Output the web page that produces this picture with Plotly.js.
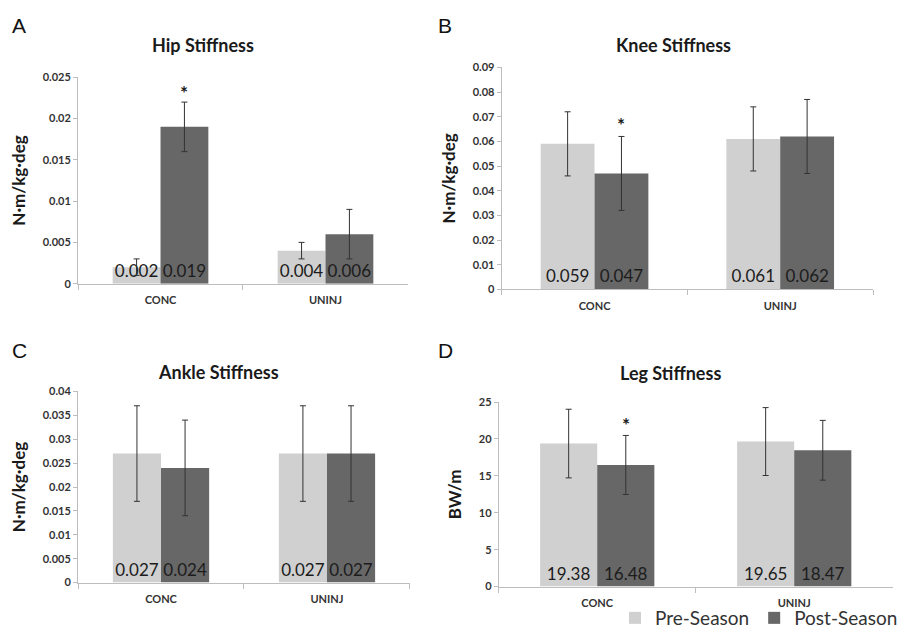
<!DOCTYPE html>
<html><head><meta charset="utf-8">
<script src="https://cdn.plot.ly/plotly-3.0.1.min.js"></script>
<style>html,body{margin:0;padding:0;background:#fff}</style>
</head><body><div id="chart" style="width:903px;height:637px"></div>
<script>
// ---- data ----
const categories = ['CONC', 'UNINJ'];
const seriesNames = ['Pre-Season', 'Post-Season'];
const panelLetters = ['A', 'B', 'C', 'D'];
const panelTitles = ['Hip Stiffness', 'Knee Stiffness', 'Ankle Stiffness', 'Leg Stiffness'];
const yTitles = ['N·m/kg·deg', 'N·m/kg·deg', 'N·m/kg·deg', 'BW/m'];

const hipPre = [0.002, 0.004];
const hipPost = [0.019, 0.006];
const hipPreErr = [0.001, 0.001];
const hipPostErr = [0.003, 0.003];

const kneePre = [0.059, 0.061];
const kneePost = [0.047, 0.062];
const kneePreErr = [0.013, 0.013];
const kneePostErr = [0.015, 0.015];

const anklePre = [0.027, 0.027];
const anklePost = [0.024, 0.027];
const anklePreErr = [0.010, 0.010];
const anklePostErr = [0.010, 0.010];

const legPre = [19.38, 19.65];
const legPost = [16.48, 18.47];
const legPreErr = [4.65, 4.6];
const legPostErr = [4.0, 4.05];

// significance asterisk (above CONC post-season bar), null = none
const starY = [0.0232, 0.067, null, 21.9];

const yRanges = [[0, 0.025], [0, 0.09], [0, 0.04], [0, 25]];
const yDticks = [0.005, 0.01, 0.005, 5];

// ---- layout geometry ----
const W = 903, H = 637;
const domX = [[0.0864, 0.4518], [0.5556, 0.9668], [0.0864, 0.454], [0.5523, 0.9886]];
const domY = [[0.5526, 0.878], [0.5436, 0.8937], [0.0811, 0.3826], [0.0748, 0.3658]];
const bargap = 0.42;
const preColor = '#d0d0d0', postColor = '#676767';
const font = 'Lato, "Open Sans", sans-serif';

const pre = [hipPre, kneePre, anklePre, legPre];
const post = [hipPost, kneePost, anklePost, legPost];
const preErr = [hipPreErr, kneePreErr, anklePreErr, legPreErr];
const postErr = [hipPostErr, kneePostErr, anklePostErr, legPostErr];

const traces = [];
const layout = {
  width: W, height: H,
  margin: {l: 0, r: 0, t: 0, b: 0},
  paper_bgcolor: '#fff', plot_bgcolor: '#fff',
  barmode: 'group', bargap: bargap, bargroupgap: 0,
  showlegend: true,
  legend: {orientation: 'h', x: 1.0, xanchor: 'right', y: 0.025, yanchor: 'middle',
           font: {family: font, size: 19, color: '#333'}, traceorder: 'normal',
           itemwidth: 30, bgcolor: 'rgba(0,0,0,0)'},
  annotations: [],
  font: {family: font}
};

for (let i = 0; i < 4; i++) {
  const n = i === 0 ? '' : String(i + 1);
  const xa = 'x' + n, ya = 'y' + n;
  const common = {
    type: 'bar', x: categories, xaxis: xa, yaxis: ya,
    textposition: 'inside', insidetextanchor: 'start', textangle: 0,
    constraintext: 'none', cliponaxis: false,
    insidetextfont: {family: font, size: 17, color: '#1c1c1c'},
    hoverinfo: 'y'
  };
  traces.push(Object.assign({}, common, {
    name: seriesNames[0], y: pre[i], text: pre[i].map(String),
    marker: {color: preColor}, legendgroup: 'pre', showlegend: i === 0,
    error_y: {type: 'data', array: preErr[i], visible: true, color: '#333', thickness: 1, width: 3}
  }));
  traces.push(Object.assign({}, common, {
    name: seriesNames[1], y: post[i], text: post[i].map(String),
    marker: {color: postColor}, legendgroup: 'post', showlegend: i === 0,
    error_y: {type: 'data', array: postErr[i], visible: true, color: '#333', thickness: 1, width: 3}
  }));

  layout['xaxis' + n] = {
    domain: domX[i], anchor: ya, type: 'category',
    showline: true, linecolor: '#bdbdbd', linewidth: 1,
    ticks: 'outside', tickson: 'boundaries', ticklen: 5, tickcolor: '#bdbdbd',
    ticklabelstandoff: 6,
    tickfont: {family: font, size: 11, color: '#333', weight: 'bold'},
    showgrid: false, zeroline: false, fixedrange: true
  };
  layout['yaxis' + n] = {
    domain: domY[i], anchor: xa, range: yRanges[i], dtick: yDticks[i], tick0: 0,
    showline: true, linecolor: '#bdbdbd', linewidth: 1,
    ticks: 'outside', ticklen: 4, tickcolor: '#bdbdbd',
    tickfont: {family: font, size: 11, color: '#333', weight: 'bold'},
    showgrid: false, zeroline: false, fixedrange: true,
    title: {text: yTitles[i], standoff: 12, font: {family: font, size: 17, color: '#1a1a1a', weight: 'bold'}}
  };

  // panel letter
  const leftPx = i % 2 === 0 ? 19 : 445;
  const topPx = i < 2 ? 26 : 352;
  layout.annotations.push({
    xref: 'paper', yref: 'paper', x: leftPx / W, y: 1 - topPx / H,
    xanchor: 'center', yanchor: 'middle', showarrow: false, text: panelLetters[i],
    font: {family: '"Liberation Sans", Arial, sans-serif', size: 21, color: '#111'}
  });
  // panel title
  const titleX = [203, 673, 218, 670][i];
  const titleY = [45, 45, 374, 375][i];
  layout.annotations.push({
    xref: 'paper', yref: 'paper', x: titleX / W, y: 1 - titleY / H,
    xanchor: 'center', yanchor: 'middle', showarrow: false, text: panelTitles[i],
    font: {family: font, size: 18, color: '#1a1a1a', weight: 'bold'}
  });
  // significance asterisk
  if (starY[i] !== null) {
    const catPx = (domX[i][1] - domX[i][0]) * W / categories.length;
    const barPx = catPx * (1 - bargap) / 2;
    layout.annotations.push({
      xref: xa, yref: ya, x: categories[0], y: starY[i], xshift: barPx / 2,
      xanchor: 'center', yanchor: 'middle', showarrow: false, text: '*',
      font: {family: font, size: 19, color: '#1a1a1a', weight: 'bold'}
    });
  }
}

Plotly.newPlot('chart', traces, layout, {displayModeBar: false, staticPlot: true});
</script>
</body></html>
